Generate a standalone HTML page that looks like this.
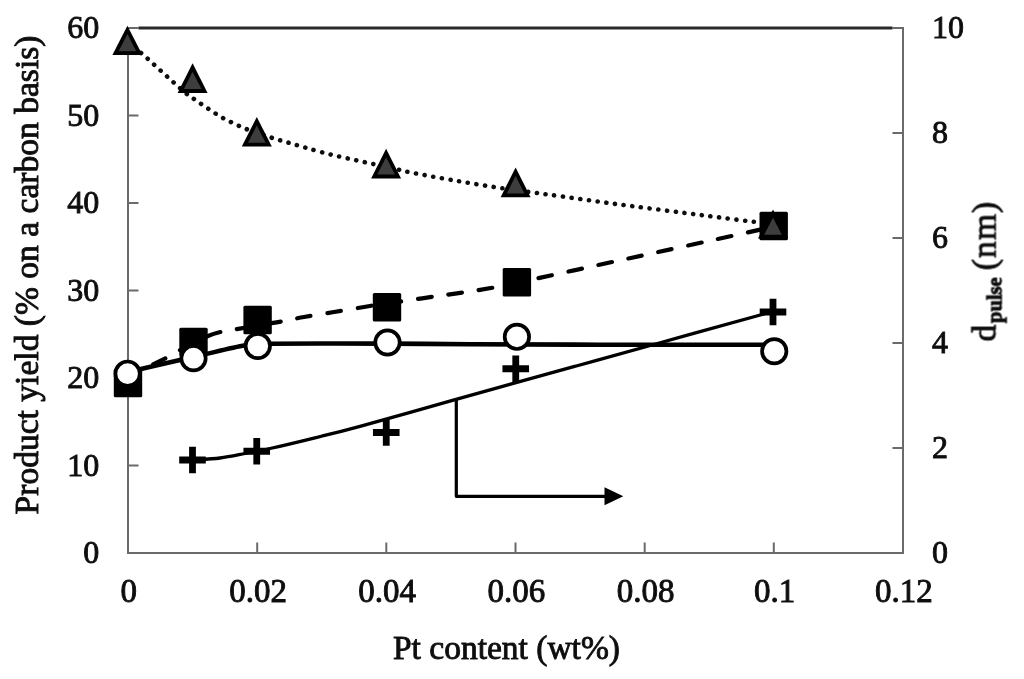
<!DOCTYPE html>
<html><head><meta charset="utf-8"><title>Product yield vs Pt content</title>
<style>html,body{margin:0;padding:0;background:#fff}svg{display:block}text{font-family:"Liberation Serif",serif;fill:#111;stroke:#111;stroke-width:0.9}</style></head>
<body>
<svg width="1024" height="679" viewBox="0 0 1024 679">
<rect width="1024" height="679" fill="#fff"/>
<defs><filter id="soft" x="0" y="0" width="1024" height="679" filterUnits="userSpaceOnUse"><feGaussianBlur stdDeviation="0.55"/></filter></defs>
<g filter="url(#soft)">
<g stroke="#6a6a6a" stroke-width="2" fill="none">
<path d="M128,28V553H903V27"/>
<path d="M128,28.0h10.5"/>
<path d="M128,115.5h10.5"/>
<path d="M128,203.0h10.5"/>
<path d="M128,290.5h10.5"/>
<path d="M128,378.0h10.5"/>
<path d="M128,465.5h10.5"/>
<path d="M903,28h-10.5"/>
<path d="M903,133h-10.5"/>
<path d="M903,238h-10.5"/>
<path d="M903,343h-10.5"/>
<path d="M903,448h-10.5"/>
<path d="M257.2,553v-10.5"/>
<path d="M386.3,553v-10.5"/>
<path d="M515.5,553v-10.5"/>
<path d="M644.7,553v-10.5"/>
<path d="M773.8,553v-10.5"/>
</g>
<path d="M138.5,28H892.5" stroke="#2a2a2a" stroke-width="2.8" fill="none"/>
<g font-size="32">
<text x="99.2" y="38.0" text-anchor="end">60</text>
<text x="99.2" y="125.5" text-anchor="end">50</text>
<text x="99.2" y="213.0" text-anchor="end">40</text>
<text x="99.2" y="300.5" text-anchor="end">30</text>
<text x="99.2" y="388.0" text-anchor="end">20</text>
<text x="99.2" y="475.5" text-anchor="end">10</text>
<text x="99.2" y="563.0" text-anchor="end">0</text>
<text x="932" y="38">10</text>
<text x="932" y="143">8</text>
<text x="932" y="248">6</text>
<text x="932" y="353">4</text>
<text x="932" y="458">2</text>
<text x="932" y="563">0</text>
<text x="128.8" y="602" font-size="33" text-anchor="middle">0</text>
<text x="258.0" y="602" font-size="33" text-anchor="middle">0.02</text>
<text x="387.1" y="602" font-size="33" text-anchor="middle">0.04</text>
<text x="516.3" y="602" font-size="33" text-anchor="middle">0.06</text>
<text x="645.5" y="602" font-size="33" text-anchor="middle">0.08</text>
<text x="774.6" y="602" font-size="33" text-anchor="middle">0.1</text>
<text x="903.8" y="602" font-size="33" text-anchor="middle">0.12</text>
</g>
<text x="506.5" y="659" font-size="33.5" text-anchor="middle">Pt content (wt%)</text>
<text transform="translate(38,275) rotate(-90)" font-size="33.55" text-anchor="middle">Product yield (% on a carbon basis)</text>
<text transform="translate(995.5,341.5) rotate(-90)" font-size="33.5"><tspan x="0">d</tspan><tspan x="18.6" font-size="20.5" font-weight="bold" dy="5.8">pulse</tspan><tspan x="71.3" dy="-5.8" letter-spacing="1.1">(nm)</tspan></text>
<path d="M141.0,53.0C142.1,54.0 144.4,55.8 147.7,58.8C151.0,61.8 156.3,66.7 160.7,70.7C165.1,74.7 169.6,78.9 173.9,82.7C178.2,86.5 183.2,91.0 186.5,93.7C189.8,96.4 190.4,96.5 194.0,99.0C197.6,101.5 203.4,105.6 208.3,108.8C213.2,112.0 218.1,115.4 223.2,118.2C228.3,121.0 234.8,123.9 238.8,125.8C242.8,127.7 241.5,127.3 247.0,129.3C252.5,131.3 264.7,135.5 271.6,137.7C278.5,139.9 282.8,141.0 288.4,142.7C294.0,144.3 298.4,145.6 305.4,147.6C312.4,149.6 322.0,152.4 330.5,154.5C339.0,156.6 349.1,158.7 356.2,160.3C363.3,161.9 366.1,162.4 373.1,164.0C380.1,165.6 391.3,168.1 398.4,169.7C405.5,171.3 406.1,171.6 415.5,173.4C424.9,175.2 442.1,178.4 455.0,180.6C467.9,182.8 482.7,185.2 492.9,186.8C503.1,188.4 508.7,189.2 516.0,190.2C523.3,191.2 529.0,191.9 536.7,193.0C544.5,194.1 552.5,195.1 562.5,196.5C572.5,197.9 585.3,199.8 597.0,201.4C608.7,203.0 617.8,204.3 632.5,206.2C647.2,208.1 670.4,211.1 685.0,213.0C699.6,214.9 708.5,216.0 720.0,217.5C731.5,219.0 746.1,220.8 753.8,221.8C761.4,222.7 764.0,223.0 766.0,223.3" fill="none" stroke="#111" stroke-width="4.6" stroke-linecap="round" stroke-dasharray="0.1 8.65" stroke-dashoffset="-0.06"/>
<path d="M128.0,379.0C132.0,376.7 145.7,368.5 152.0,365.0C158.3,361.5 161.7,360.3 166.0,358.0C170.3,355.7 173.4,353.3 178.0,351.0C182.6,348.7 188.5,346.5 193.5,344.0C198.5,341.5 203.4,338.0 208.0,336.0C212.6,334.0 216.7,332.9 221.3,331.8C225.9,330.7 229.3,330.4 235.4,329.4C241.5,328.3 249.9,326.8 257.6,325.5C265.3,324.2 273.8,322.9 281.5,321.5C289.2,320.1 295.2,318.6 304.0,317.0C312.8,315.4 324.0,313.7 334.0,312.0C344.0,310.3 355.2,308.5 364.0,307.0C372.8,305.5 380.5,304.0 387.0,303.0C393.5,302.0 395.2,302.3 403.0,301.2C410.8,300.1 423.5,298.1 433.5,296.6C443.5,295.2 452.9,294.0 463.0,292.5C473.1,291.0 484.8,289.1 493.8,287.5C502.8,285.9 509.9,284.5 516.9,283.0C523.9,281.5 522.4,281.6 535.8,278.7C549.1,275.8 577.0,269.7 597.0,265.3C617.0,260.9 636.2,256.8 656.0,252.5C675.8,248.2 696.4,243.7 716.0,239.4C735.6,235.1 764.1,228.8 773.7,226.7" fill="none" stroke="#000" stroke-width="4.2" stroke-linecap="round" stroke-dasharray="13.7 16.9" stroke-dashoffset="-29.0"/>
<path d="M128.0,372.0C138.9,369.5 174.0,361.4 193.5,357.0C213.0,352.6 232.2,347.5 245.0,345.3C257.8,343.1 246.3,344.0 270.0,343.7C293.7,343.4 353.7,343.5 387.0,343.6C420.3,343.7 434.5,344.0 470.0,344.2C505.5,344.4 549.5,344.6 600.0,344.7C650.5,344.8 744.2,344.7 773.0,344.7" fill="none" stroke="#000" stroke-width="4.6"/>
<path d="M192.5,460.3C197.1,459.9 211.2,459.1 220.0,458.0C228.8,456.9 236.7,455.1 245.0,453.5C253.3,451.9 258.3,451.1 270.0,448.5C281.7,445.9 300.0,441.5 315.0,437.8C330.0,434.1 336.5,432.7 360.0,426.3C383.5,419.9 430.0,406.7 456.0,399.4C482.0,392.1 482.4,391.9 516.0,382.6C549.6,373.3 614.7,355.4 657.5,343.5C700.3,331.6 753.8,316.8 773.0,311.5" fill="none" stroke="#000" stroke-width="3.3"/>
<path d="M456.3,399.5V496.3H607" fill="none" stroke="#000" stroke-width="3.2" stroke-linejoin="round"/>
<path d="M604.5,487.3L623.3,496.3L604.5,505.3Z" fill="#000"/>
<rect x="113.8" y="368.8" width="28.4" height="28.4" rx="1.5" fill="#000"/>
<rect x="179.3" y="327.8" width="28.4" height="28.4" rx="1.5" fill="#000"/>
<rect x="243.4" y="305.8" width="28.4" height="28.4" rx="1.5" fill="#000"/>
<rect x="372.8" y="293.0" width="28.4" height="28.4" rx="1.5" fill="#000"/>
<rect x="502.7" y="268.1" width="28.4" height="28.4" rx="1.5" fill="#000"/>
<rect x="759.5" y="211.8" width="28.4" height="28.4" rx="1.5" fill="#000"/>
<circle cx="127.6" cy="373.7" r="12.2" fill="#fff" stroke="#000" stroke-width="3.7"/>
<circle cx="193.5" cy="358.2" r="12.2" fill="#fff" stroke="#000" stroke-width="3.7"/>
<circle cx="257.8" cy="346" r="12.2" fill="#fff" stroke="#000" stroke-width="3.7"/>
<circle cx="387.5" cy="342.5" r="12.2" fill="#fff" stroke="#000" stroke-width="3.7"/>
<circle cx="516.9" cy="336.8" r="12.2" fill="#fff" stroke="#000" stroke-width="3.7"/>
<circle cx="774.25" cy="351.25" r="12.2" fill="#fff" stroke="#000" stroke-width="3.7"/>
<path d="M179.2,460h26.6M192.5,446.7v26.6" stroke="#000" stroke-width="6.8" fill="none"/>
<path d="M243.45,451.25h26.6M256.75,437.95v26.6" stroke="#000" stroke-width="6.8" fill="none"/>
<path d="M372.95,432.5h26.6M386.25,419.2v26.6" stroke="#000" stroke-width="6.8" fill="none"/>
<path d="M502.45,368.75h26.6M515.75,355.45v26.6" stroke="#000" stroke-width="6.8" fill="none"/>
<path d="M759.7,312h26.6M773,298.7v26.6" stroke="#000" stroke-width="6.8" fill="none"/>
<path d="M127.4,25.7L142.4,55.0H112.4Z" fill="#000"/>
<path d="M127.4,34.0L136.2,51.2H118.6Z" fill="#3e3e3e"/>
<path d="M192.6,63.3L207.6,92.89999999999999H177.6Z" fill="#000"/>
<path d="M192.6,71.7L201.4,89.1H183.8Z" fill="#3e3e3e"/>
<path d="M256.8,117.0L271.8,146.60000000000002H241.8Z" fill="#000"/>
<path d="M256.8,125.4L265.6,142.8H248.0Z" fill="#3e3e3e"/>
<path d="M386.1,148.79999999999998L401.1,178.4H371.1Z" fill="#000"/>
<path d="M386.1,157.2L394.9,174.6H377.3Z" fill="#3e3e3e"/>
<path d="M515.6,167.5L530.6,197.3H500.6Z" fill="#000"/>
<path d="M515.6,176.0L524.4,193.5H506.8Z" fill="#3e3e3e"/>
<path d="M773,209.39999999999998L788.0,238.5H758.0Z" fill="#000"/>
<path d="M773,217.7L781.8,234.7H764.2Z" fill="#3e3e3e"/>
</g>
</svg>
</body></html>
